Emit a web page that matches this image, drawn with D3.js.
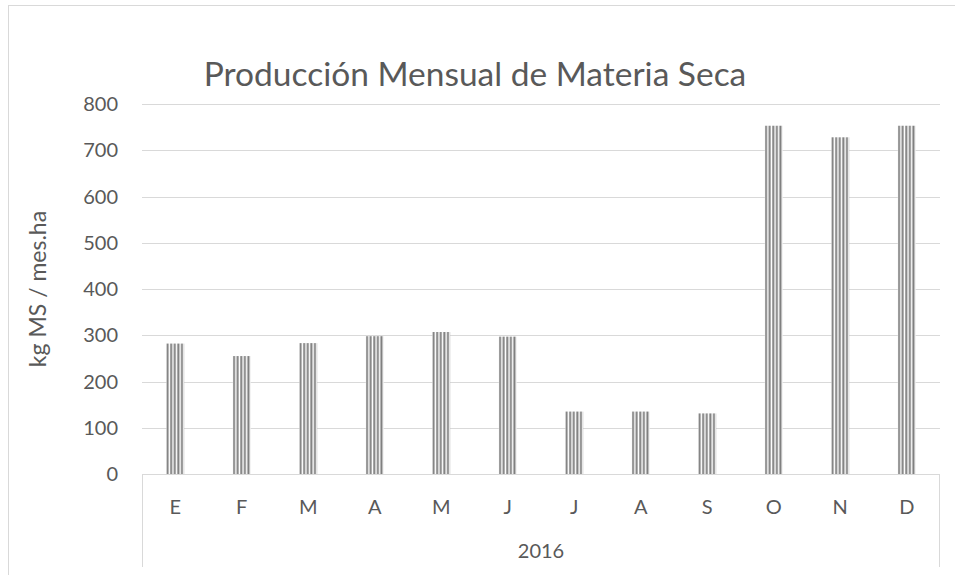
<!DOCTYPE html>
<html lang="es">
<head>
<meta charset="utf-8">
<title>Producción Mensual de Materia Seca</title>
<script src="https://cdn.jsdelivr.net/npm/d3@7"></script>
<style>
  body { margin: 0; background: #fff; }
  text { font-family: Lato, "Open Sans", sans-serif; fill: #595959; }
</style>
</head>
<body>
<div id="chart"></div>
<script>
// data
var months = ["E", "F", "M", "A", "M", "J", "J", "A", "S", "O", "N", "D"];
var values = [282, 255, 283, 298, 307, 297, 135, 135, 131, 753, 728, 753];
var yTicks = [0, 100, 200, 300, 400, 500, 600, 700, 800];
var yearLabel = "2016";

var width = 955, height = 575;
var plot = {left: 142, right: 940, top: 104, bottom: 474};
var grid = "#d9d9d9";

var svg = d3.select("#chart").append("svg")
  .attr("width", width)
  .attr("height", height);

// outer chart border (runs off the right/bottom edge)
svg.append("rect")
  .attr("x", 8.5).attr("y", 5.5)
  .attr("width", 980).attr("height", 620)
  .attr("fill", "#fff")
  .attr("stroke", grid);

var x = d3.scaleBand()
  .domain(d3.range(months.length))
  .range([plot.left, plot.right]);

var y = d3.scaleLinear()
  .domain([0, 800])
  .range([plot.bottom, plot.top]);

var barW = x.bandwidth() * 0.27;

// gridlines
svg.append("g").selectAll("line")
  .data(yTicks.filter(d => d > 0))
  .join("line")
  .attr("x1", plot.left).attr("x2", plot.right)
  .attr("y1", d => Math.round(y(d)) + 0.5)
  .attr("y2", d => Math.round(y(d)) + 0.5)
  .attr("stroke", grid)
  .attr("stroke-width", 1);

// y tick labels
svg.append("g").selectAll("text")
  .data(yTicks)
  .join("text")
  .attr("x", plot.left - 24)
  .attr("y", d => y(d) + 7)
  .attr("text-anchor", "end")
  .style("font-size", "20px")
  .text(d => d);

// striped fill, one pattern per bar so stripes line up with bar edge
var defs = svg.append("defs");
var pats = defs.selectAll("pattern")
  .data(values)
  .join("pattern")
  .attr("id", (d, i) => "stripe" + i)
  .attr("patternUnits", "userSpaceOnUse")
  .attr("x", (d, i) => x(i) + x.bandwidth() / 2 - barW / 2)
  .attr("y", 0)
  .attr("width", 3.6)
  .attr("height", 10);
pats.append("rect")
  .attr("width", 3.6).attr("height", 10)
  .attr("fill", "#fff");
pats.append("rect")
  .attr("x", 0.3)
  .attr("width", 2).attr("height", 10)
  .attr("fill", "#7f7f7f");

// bars
svg.append("g").selectAll("rect")
  .data(values)
  .join("rect")
  .attr("x", (d, i) => x(i) + x.bandwidth() / 2 - barW / 2)
  .attr("y", d => y(d))
  .attr("width", barW)
  .attr("height", d => y(0) - y(d))
  .attr("fill", (d, i) => "url(#stripe" + i + ")");

// category axis box
var axisG = svg.append("g").attr("fill", "none").attr("stroke", grid);
axisG.append("line")
  .attr("x1", plot.left).attr("x2", plot.right)
  .attr("y1", plot.bottom + 0.5).attr("y2", plot.bottom + 0.5);
axisG.append("line")
  .attr("x1", plot.left + 0.5).attr("x2", plot.left + 0.5)
  .attr("y1", plot.bottom).attr("y2", 567);
axisG.append("line")
  .attr("x1", plot.right - 0.5).attr("x2", plot.right - 0.5)
  .attr("y1", plot.bottom).attr("y2", 567);

// month labels
svg.append("g").selectAll("text")
  .data(months)
  .join("text")
  .attr("x", (d, i) => x(i) + x.bandwidth() / 2)
  .attr("y", 514)
  .attr("text-anchor", "middle")
  .style("font-size", "20px")
  .text(d => d);

// year label
svg.append("text")
  .attr("x", (plot.left + plot.right) / 2)
  .attr("y", 558)
  .attr("text-anchor", "middle")
  .style("font-size", "20px")
  .text(yearLabel);

// title
svg.append("text")
  .attr("x", 475)
  .attr("y", 86)
  .attr("text-anchor", "middle")
  .style("font-size", "33.5px")
  .text("Producción Mensual de Materia Seca");

// y axis title
svg.append("text")
  .attr("transform", "translate(46," + (plot.top + plot.bottom) / 2 + ") rotate(-90)")
  .attr("text-anchor", "middle")
  .style("font-size", "23px")
  .text("kg MS / mes.ha");
</script>
</body>
</html>
